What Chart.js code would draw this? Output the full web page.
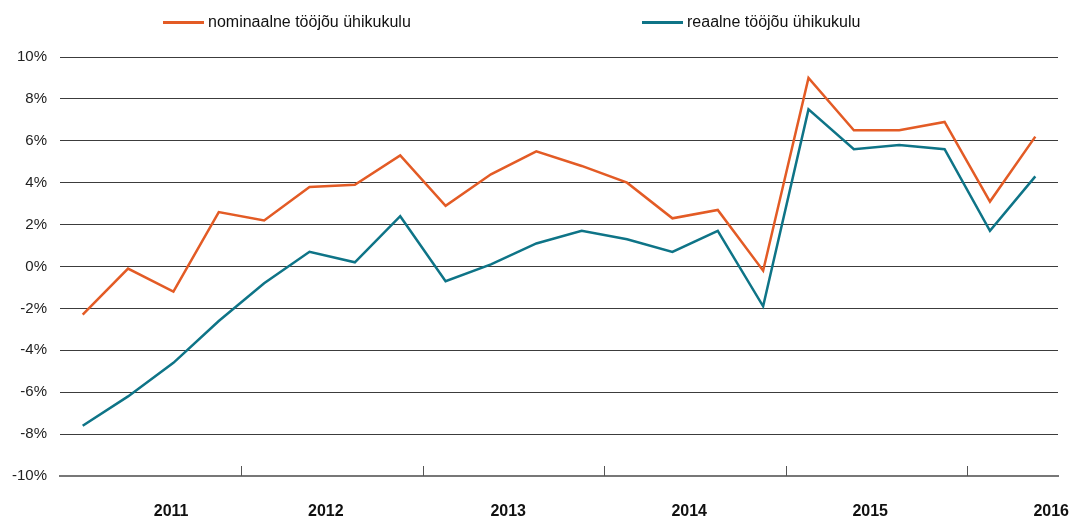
<!DOCTYPE html>
<html>
<head>
<meta charset="utf-8">
<script src="https://cdn.jsdelivr.net/npm/chart.js@4"></script>
<style>
  html, body { margin: 0; padding: 0; background: #fff; }
  #wrap { position: relative; width: 1073px; height: 519px; }
  .leg { position: absolute; top: 13px; display: flex; align-items: center;
         font: 16px "Liberation Sans", Arial, sans-serif; color: #111; }
  .leg span.sw { display: inline-block; width: 41px; height: 3px; margin-right: 4px; }
</style>
</head>
<body>
<div id="wrap">
  <canvas id="myChart" width="1073" height="519"></canvas>
  <div class="leg" style="left:163px"><span class="sw" style="background:#e35b25"></span>nominaalne tööjõu ühikukulu</div>
  <div class="leg" style="left:642px"><span class="sw" style="background:#0e7487"></span>reaalne tööjõu ühikukulu</div>
</div>
<script>
// kvartalid 2011 ... 2016
const nominal = [-2.3, -0.1, -1.2, 2.6, 2.2, 3.8, 3.9, 5.3, 2.9, 4.4, 5.5, 4.8, 4.0, 2.3, 2.7, -0.2, 9.0, 6.5, 6.5, 6.9, 3.1, 6.2];
const real = [-7.6, -6.2, -4.6, -2.6, -0.8, 0.7, 0.2, 2.4, -0.7, 0.1, 1.1, 1.7, 1.3, 0.7, 1.7, -1.9, 7.5, 5.6, 5.8, 5.6, 1.7, 4.3];
const yearLabels = ['2011', '2012', '2013', '2014', '2015', '2016'];
const yearLabelPos = [2.45, 5.86, 9.88, 13.87, 17.86, 21.85];
const yearTickPos = [4, 8, 12, 16, 20];

const toPts = arr => arr.map((v, i) => ({ x: i + 0.5, y: v }));

// aastate kriipsud ja aastate sildid x-teljel
const yearAxis = {
  id: 'yearAxis',
  afterDraw(chart) {
    const { ctx, chartArea, scales: { x } } = chart;
    ctx.save();
    ctx.strokeStyle = '#555';
    ctx.lineWidth = 1;
    yearTickPos.forEach(p => {
      const px = Math.round(x.getPixelForValue(p)) + 0.5;
      ctx.beginPath();
      ctx.moveTo(px, chartArea.bottom - 10);
      ctx.lineTo(px, chartArea.bottom);
      ctx.stroke();
    });
    ctx.fillStyle = '#111';
    ctx.font = 'bold 16px "Liberation Sans", Arial, sans-serif';
    ctx.textAlign = 'center';
    ctx.textBaseline = 'middle';
    yearLabels.forEach((lab, i) => {
      ctx.fillText(lab, x.getPixelForValue(yearLabelPos[i]), chartArea.bottom + 36);
    });
    ctx.restore();
  }
};

const font = { family: '"Liberation Sans", Arial, sans-serif', size: 15 };

new Chart(document.getElementById('myChart').getContext('2d'), {
  type: 'line',
  data: {
    datasets: [{
      label: 'nominaalne tööjõu ühikukulu',
      data: toPts(nominal),
      borderColor: '#e35b25',
      borderWidth: 2.5,
      pointRadius: 0,
      tension: 0
    }, {
      label: 'reaalne tööjõu ühikukulu',
      data: toPts(real),
      borderColor: '#0e7487',
      borderWidth: 2.5,
      pointRadius: 0,
      tension: 0
    }]
  },
  options: {
    responsive: false,
    animation: false,
    layout: { padding: { top: 57, right: 15, left: 0, bottom: 0 } },
    plugins: { legend: { display: false }, tooltip: { enabled: false } },
    scales: {
      x: {
        type: 'linear',
        min: 0,
        max: 22,
        afterFit: s => { s.height = 43; },
        grid: { display: false, drawTicks: false },
        border: { display: true, color: '#777', width: 2 },
        ticks: { display: false }
      },
      y: {
        min: -10,
        max: 10,
        afterFit: s => { s.width = 60; },
        grid: { color: '#3c3c3c', lineWidth: 1, drawTicks: false },
        border: { display: false },
        ticks: {
          stepSize: 2,
          padding: 13,
          color: '#222',
          font: font,
          callback: v => v + '%'
        }
      }
    }
  },
  plugins: [yearAxis]
});
</script>
</body>
</html>
